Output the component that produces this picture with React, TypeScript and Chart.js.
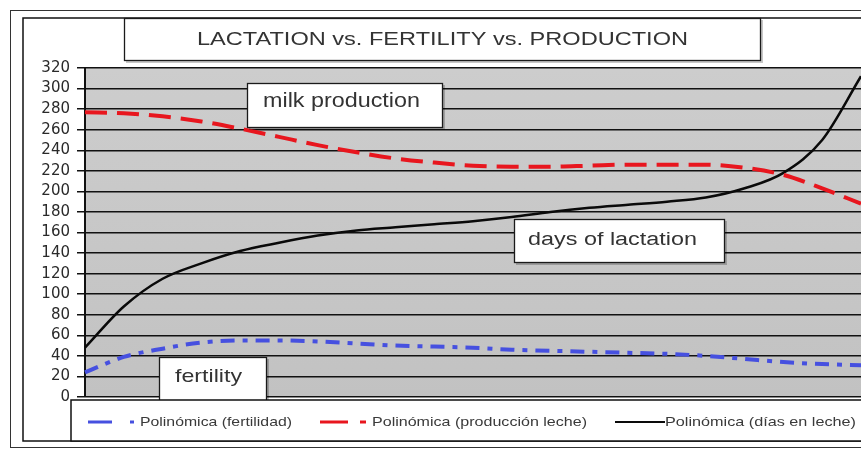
import React, { useEffect, useRef } from 'react';
import { Chart, registerables } from 'chart.js';

Chart.register(...registerables);

// ---- data ----
const stages = ['1', '2', '3', '4', '5', '6', '7', '8', '9', '10', '11', '12', '13', '14', '15', '16', '17', '18', '19', '20', '21'];
const fertility = [24, 39, 47, 53, 55, 55, 54, 52, 50, 49, 48, 46, 45, 44, 43, 42, 40, 37, 34, 32, 31];
const milkProduction = [277, 276, 273, 268, 261, 253, 245, 238, 232, 228, 225, 224, 224, 225, 226, 226, 226, 223, 216, 203, 188];
const daysInMilk = [48, 88, 115, 130, 142, 150, 157, 162, 165, 168, 171, 175, 180, 184, 187, 190, 194, 203, 218, 250, 312];
const yMin = 0;
const yMax = 320;
const yStep = 20;
const chartTitle = 'LACTATION vs. FERTILITY vs. PRODUCTION';
const annotationTexts = ['milk production', 'days of lactation', 'fertility'];
const seriesLabels = ['Polinómica (fertilidad)', 'Polinómica (producción leche)', 'Polinómica (días en leche)'];

const FONT = '"Liberation Sans", Arial, sans-serif';

function drawStretched(ctx: CanvasRenderingContext2D, text: string, left: number, baseline: number, size: number, width: number, color: string) {
  ctx.save();
  ctx.font = `${size}px ${FONT}`;
  ctx.fillStyle = color;
  ctx.textAlign = 'left';
  ctx.textBaseline = 'alphabetic';
  const w = ctx.measureText(text).width;
  ctx.translate(left, baseline);
  ctx.scale(width / w, 1);
  ctx.fillText(text, 0, 0);
  ctx.restore();
}

function drawBox(ctx: CanvasRenderingContext2D, x: number, y: number, w: number, h: number, shadow = true) {
  ctx.save();
  if (shadow) {
    ctx.fillStyle = 'rgba(0,0,0,0.22)';
    ctx.fillRect(x + 2, y + 2, w, h);
  }
  ctx.fillStyle = '#ffffff';
  ctx.fillRect(x, y, w, h);
  ctx.strokeStyle = '#1a1a1a';
  ctx.lineWidth = 1.3;
  ctx.strokeRect(x + 0.5, y + 0.5, w - 1, h - 1);
  ctx.restore();
}

const decorPlugin = {
  id: 'decor',
  beforeDraw(chart: any) {
    const ctx: CanvasRenderingContext2D = chart.ctx;
    const a = chart.chartArea;
    ctx.save();
    ctx.fillStyle = '#ffffff';
    ctx.fillRect(0, 0, chart.width, chart.height);
    // frames
    ctx.strokeStyle = '#333';
    ctx.lineWidth = 1;
    ctx.strokeRect(10.5, 10.5, 900, 437);
    ctx.strokeStyle = '#111';
    ctx.lineWidth = 1.5;
    ctx.strokeRect(23, 18, 900, 423);
    // plot background
    const g = ctx.createLinearGradient(0, a.top, 0, a.bottom);
    g.addColorStop(0, '#cdcdcd');
    g.addColorStop(1, '#c2c2c2');
    ctx.fillStyle = g;
    ctx.fillRect(a.left, a.top, a.right - a.left, a.bottom - a.top);
    ctx.restore();
  },
  afterDraw(chart: any) {
    const ctx: CanvasRenderingContext2D = chart.ctx;
    // title box
    drawBox(ctx, 124, 18, 637, 43, true);
    drawStretched(ctx, chartTitle, 197, 45, 18, 491, '#333');
    // annotation boxes
    drawBox(ctx, 247, 83, 196, 45);
    drawStretched(ctx, annotationTexts[0], 263, 107, 20, 157, '#333');
    drawBox(ctx, 514, 219, 211, 44);
    drawStretched(ctx, annotationTexts[1], 528, 245, 18, 169, '#333');
    drawBox(ctx, 159, 357, 108, 45);
    drawStretched(ctx, annotationTexts[2], 175, 382, 19, 67, '#333');
    // legend box
    ctx.save();
    ctx.fillStyle = '#fff';
    ctx.fillRect(71, 400, 820, 41);
    ctx.strokeStyle = '#111';
    ctx.lineWidth = 1.5;
    ctx.strokeRect(71, 400, 820, 41);
    ctx.restore();
    const ds = chart.data.datasets;
    const ly = 422;
    const sample = (x1: number, x2: number, color: string, width: number, dash: number[]) => {
      ctx.save();
      ctx.strokeStyle = color;
      ctx.lineWidth = width;
      ctx.setLineDash(dash);
      ctx.beginPath();
      ctx.moveTo(x1, ly);
      ctx.lineTo(x2, ly);
      ctx.stroke();
      ctx.restore();
    };
    sample(88, 134, ds[0].borderColor, 3, [24, 18, 6, 100]);
    drawStretched(ctx, ds[0].label, 140, 426, 13, 152, '#3a3a3a');
    sample(320, 366, ds[1].borderColor, 3, [28, 12, 6, 100]);
    drawStretched(ctx, ds[1].label, 372, 426, 13, 215, '#3a3a3a');
    sample(615, 665, ds[2].borderColor, 2, []);
    drawStretched(ctx, ds[2].label, 665, 426, 13, 191, '#3a3a3a');
  },
};

export default function App() {
  const ref = useRef<HTMLCanvasElement | null>(null);
  useEffect(() => {
    if (!ref.current) return;
    const chart = new Chart(ref.current, {
      type: 'line',
      data: {
        labels: stages,
        datasets: [
          {
            label: seriesLabels[0],
            data: fertility,
            borderColor: '#4650e0',
            borderWidth: 4,
            borderDash: [14, 8, 5, 8],
            pointRadius: 0,
            cubicInterpolationMode: 'monotone',
            fill: false,
          },
          {
            label: seriesLabels[1],
            data: milkProduction,
            borderColor: '#e8161e',
            borderWidth: 4,
            borderDash: [22, 10],
            pointRadius: 0,
            cubicInterpolationMode: 'monotone',
            fill: false,
          },
          {
            label: seriesLabels[2],
            data: daysInMilk,
            borderColor: '#0a0a0a',
            borderWidth: 2.5,
            pointRadius: 0,
            cubicInterpolationMode: 'monotone',
            fill: false,
          },
        ],
      },
      options: {
        responsive: false,
        animation: false,
        layout: { padding: { top: 68, bottom: 53, left: 0, right: 0 } },
        plugins: { legend: { display: false }, title: { display: false }, tooltip: { enabled: false } },
        scales: {
          x: { display: false, offset: false },
          y: {
            min: yMin,
            max: yMax,
            afterFit: (s: any) => { s.width = 85; },
            ticks: {
              stepSize: yStep,
              autoSkip: false,
              padding: 7,
              color: '#2a2a2a',
              font: { family: '"DejaVu Sans", sans-serif', size: 15 },
            },
            grid: {
              color: '#111',
              lineWidth: 1.5,
              tickLength: 8,
              drawTicks: true,
              tickColor: '#111',
            },
            border: { display: true, color: '#111', width: 2 },
          },
        },
      },
      plugins: [decorPlugin],
    });
    return () => chart.destroy();
  }, []);
  return (
    <div style={{ position: 'fixed', left: 0, top: 0, width: 861, height: 450, overflow: 'hidden', background: '#fff' }}>
      <canvas ref={ref} width={861} height={450} style={{ display: 'block' }} />
    </div>
  );
}
